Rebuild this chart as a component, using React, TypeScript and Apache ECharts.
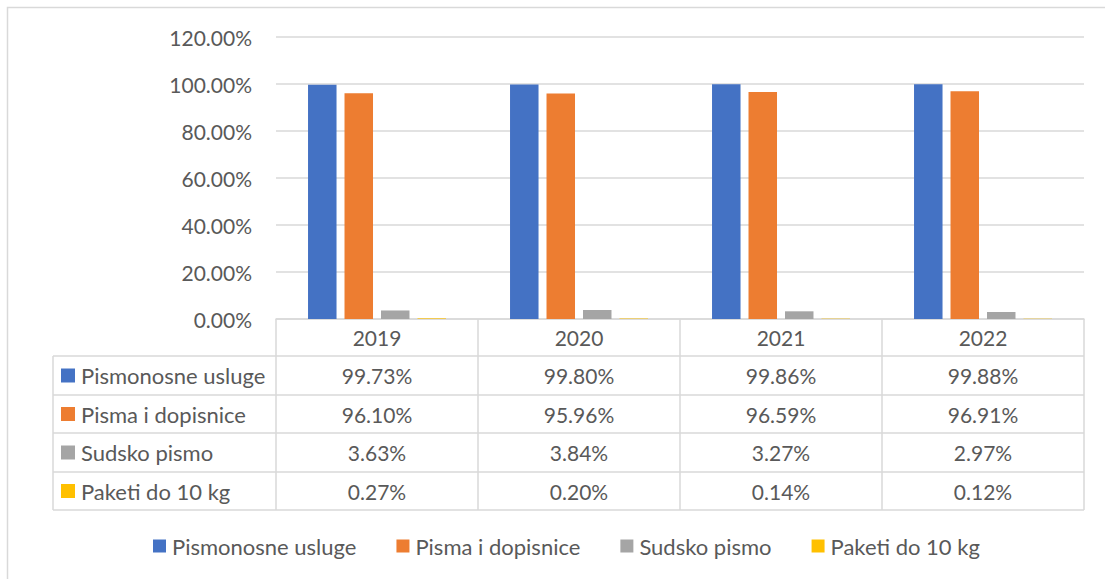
import React, { useEffect, useRef } from 'react';
import * as echarts from 'echarts';

const categories = ['2019', '2020', '2021', '2022'];
const seriesNames = ['Pismonosne usluge', 'Pisma i dopisnice', 'Sudsko pismo', 'Paketi do 10 kg'];
const pismonosneUsluge = [99.73, 99.8, 99.86, 99.88];
const pismaIDopisnice = [96.1, 95.96, 96.59, 96.91];
const sudskoPismo = [3.63, 3.84, 3.27, 2.97];
const paketiDo10kg = [0.27, 0.2, 0.14, 0.12];
const yMin = 0;
const yMax = 120;
const yInterval = 20;
const colors = ['#4472C4', '#ED7D31', '#A5A5A5', '#FFC000'];

const FONT = 'Lato';
const TEXT = '#595959';
const LINE = '#d9d9d9';

export default function App() {
  const ref = useRef<HTMLDivElement>(null);
  useEffect(() => {
    if (!ref.current) return;
    const chart = echarts.init(ref.current, undefined, { renderer: 'svg' });
    const allSeries = [pismonosneUsluge, pismaIDopisnice, sudskoPismo, paketiDo10kg];
    const gridLeft = 276;
    const gridRightPx = 1084;
    const gridTop = 37;
    const axisY = 319;
    chart.setOption({
      animation: false,
      grid: { left: gridLeft, right: 1105 - gridRightPx, top: gridTop, bottom: 579 - axisY, containLabel: false },
      legend: {
        left: 153,
        top: 535,
        padding: 0,
        itemWidth: 13,
        itemHeight: 13,
        itemGap: 40,
        icon: 'rect',
        textStyle: { fontFamily: FONT, fontSize: 22, color: TEXT, padding: [0, 0, 0, 1] },
        data: seriesNames,
      },
      xAxis: {
        type: 'category',
        data: categories,
        axisLine: { show: true, lineStyle: { color: LINE, width: 1.5 } },
        axisTick: { show: false },
        axisLabel: { show: true, fontFamily: FONT, fontSize: 21, color: TEXT, margin: 8 },
      },
      yAxis: {
        type: 'value',
        min: yMin,
        max: yMax,
        interval: yInterval,
        axisLine: { show: false },
        axisTick: { show: false },
        splitLine: { lineStyle: { color: LINE, width: 1.5 } },
        axisLabel: {
          fontFamily: FONT,
          fontSize: 21,
          color: TEXT,
          margin: 24,
          formatter: (v: number) => v.toFixed(2) + '%',
        },
      },
      series: allSeries.map((d, i) => ({
        name: seriesNames[i],
        type: 'bar',
        data: d,
        barWidth: 28.5,
        barGap: '28%',
        itemStyle: { color: colors[i] },
      })),
    });

    const band = (gridRightPx - gridLeft) / categories.length;
    const centers = categories.map((c) => chart.convertToPixel({ xAxisIndex: 0 }, c) as number);
    const tableLeft = 53;
    const rowLines = [356, 395, 433, 472, 510];
    const graphics: any[] = [];
    graphics.push({
      type: 'rect',
      shape: { x: 7.5, y: 7.5, width: 1200, height: 700 },
      style: { fill: 'none', stroke: LINE, lineWidth: 1.5 },
      silent: true,
    });
    rowLines.forEach((y) => {
      graphics.push({
        type: 'line',
        shape: { x1: tableLeft, y1: y, x2: gridRightPx, y2: y },
        style: { stroke: LINE, lineWidth: 1.5 },
      });
    });
    graphics.push({
      type: 'line',
      shape: { x1: tableLeft, y1: rowLines[0], x2: tableLeft, y2: rowLines[rowLines.length - 1] },
      style: { stroke: LINE, lineWidth: 1.5 },
    });
    centers.forEach((cx, i) => {
      const xs = i === 0 ? [cx - band / 2, cx + band / 2] : [cx + band / 2];
      xs.forEach((x) => {
        graphics.push({
          type: 'line',
          shape: { x1: x, y1: axisY, x2: x, y2: rowLines[rowLines.length - 1] },
          style: { stroke: LINE, lineWidth: 1.5 },
        });
      });
    });
    allSeries.forEach((d, r) => {
      const cy = (rowLines[r] + rowLines[r + 1]) / 2;
      graphics.push({
        type: 'rect',
        shape: { x: 61, y: cy - 7, width: 14, height: 14 },
        style: { fill: colors[r] },
      });
      graphics.push({
        type: 'text',
        x: 81,
        y: cy,
        style: {
          text: seriesNames[r],
          fontFamily: FONT,
          fontSize: 22,
          fill: TEXT,
          textAlign: 'left',
          textVerticalAlign: 'middle',
        },
      });
      d.forEach((v, c) => {
        graphics.push({
          type: 'text',
          x: centers[c],
          y: cy,
          style: {
            text: v.toFixed(2) + '%',
            fontFamily: FONT,
            fontSize: 21,
            fill: TEXT,
            textAlign: 'center',
            textVerticalAlign: 'middle',
          },
        });
      });
    });
    chart.setOption({ graphic: graphics });

    return () => chart.dispose();
  }, []);
  return (
    <div
      ref={ref}
      style={{ position: 'fixed', left: 0, top: 0, width: 1105, height: 579, background: '#fff' }}
    />
  );
}
